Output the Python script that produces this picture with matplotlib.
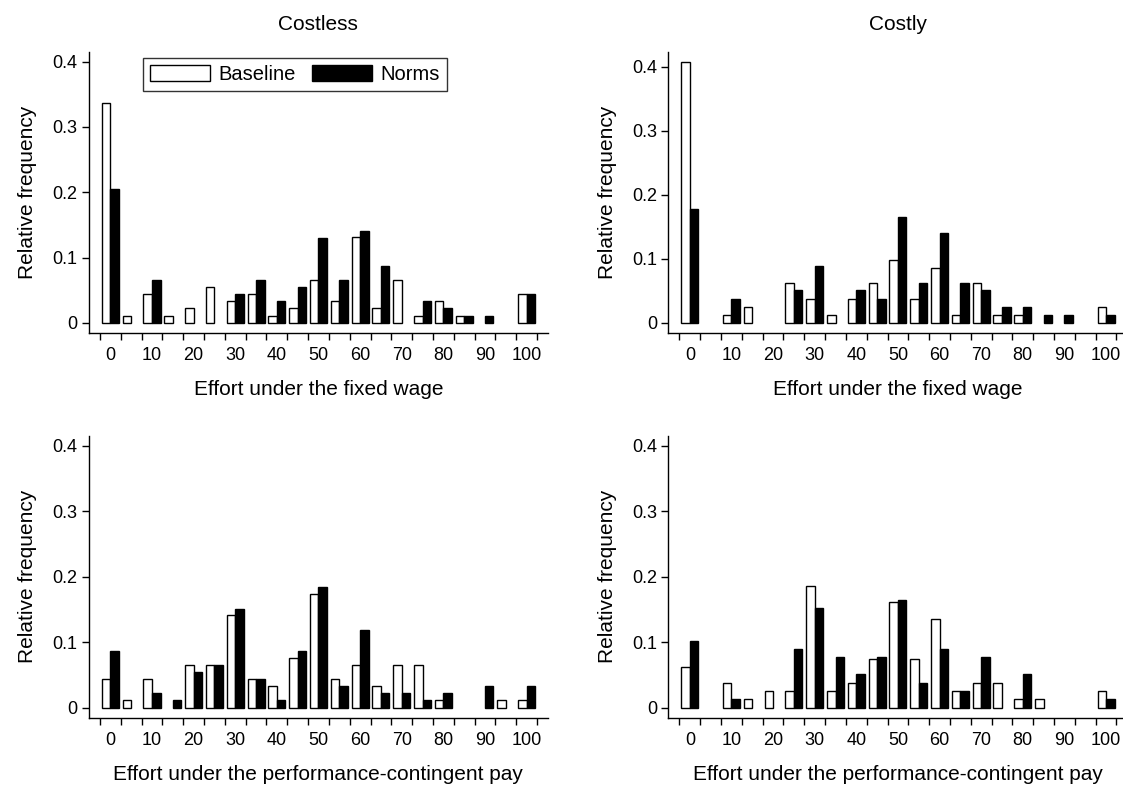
import matplotlib
matplotlib.use('Agg')
import matplotlib.pyplot as plt
import numpy as np

plt.rcParams['font.family'] = ['Liberation Sans', 'DejaVu Sans']

# Effort levels (bins of width 5)
effort = np.arange(0, 101, 5)

# Relative frequencies
base_fixed_costless = [0.337, 0.011, 0.044, 0.011, 0.022, 0.055, 0.033, 0.044, 0.011, 0.022, 0.065,
                       0.033, 0.131, 0.022, 0.065, 0.011, 0.033, 0.011, 0, 0, 0.044]
norms_fixed_costless = [0.205, 0, 0.065, 0, 0, 0, 0.044, 0.065, 0.033, 0.055, 0.130,
                        0.065, 0.140, 0.087, 0, 0.033, 0.022, 0.011, 0.011, 0, 0.044]

base_fixed_costly = [0.408, 0, 0.0125, 0.025, 0, 0.062, 0.0375, 0.0125, 0.0375, 0.062, 0.099,
                     0.0375, 0.0865, 0.0125, 0.062, 0.0125, 0.0125, 0, 0, 0, 0.025]
norms_fixed_costly = [0.178, 0, 0.038, 0, 0, 0.051, 0.089, 0, 0.051, 0.038, 0.165,
                      0.063, 0.140, 0.063, 0.051, 0.025, 0.025, 0.0125, 0.0125, 0, 0.0125]

base_perf_costless = [0.044, 0.011, 0.044, 0, 0.065, 0.065, 0.142, 0.044, 0.033, 0.076, 0.174,
                      0.044, 0.065, 0.033, 0.065, 0.065, 0.011, 0, 0, 0.011, 0.011]
norms_perf_costless = [0.087, 0, 0.022, 0.011, 0.055, 0.065, 0.151, 0.043, 0.011, 0.087, 0.184,
                       0.033, 0.119, 0.022, 0.022, 0.011, 0.022, 0, 0.033, 0, 0.033]

base_perf_costly = [0.062, 0, 0.037, 0.0125, 0.025, 0.025, 0.186, 0.025, 0.037, 0.074, 0.161,
                    0.074, 0.136, 0.025, 0.037, 0.037, 0.0125, 0.0125, 0, 0, 0.025]
norms_perf_costly = [0.102, 0, 0.0125, 0, 0, 0.089, 0.152, 0.077, 0.051, 0.077, 0.165,
                     0.038, 0.089, 0.025, 0.077, 0, 0.051, 0, 0, 0, 0.0125]

yticks = [0, 0.1, 0.2, 0.3, 0.4]
ytick_labels = ['0', '0.1', '0.2', '0.3', '0.4']
xlabels_major = np.arange(0, 101, 10)

TICK_FS = 13
LABEL_FS = 15

fig = plt.figure(figsize=(11.23, 7.87), dpi=100)

# axes positions [left, bottom, width, height] in figure fraction
positions = {
    'tl': [0.079, 0.577, 0.409, 0.357],
    'tr': [0.595, 0.577, 0.409, 0.357],
    'bl': [0.079, 0.088, 0.409, 0.358],
    'br': [0.595, 0.088, 0.409, 0.358],
}


def draw_panel(ax, base, norms, xlabel, ytop, title=None):
    base = np.array(base)
    norms = np.array(norms)
    w = 2.05
    mb = base > 0
    mn = norms > 0
    ax.bar(effort[mb], base[mb], width=-w, align='edge', color='white',
           edgecolor='black', linewidth=1.0, label='Baseline')
    ax.bar(effort[mn], norms[mn], width=w, align='edge', color='black',
           edgecolor='black', linewidth=1.0, label='Norms')

    ax.set_xlim(-5.2, 105.15)
    ax.set_ylim(-0.0155, ytop)

    for s in ['top', 'right']:
        ax.spines[s].set_visible(False)
    for s in ['left', 'bottom']:
        ax.spines[s].set_linewidth(1.0)

    ax.set_yticks(yticks)
    ax.set_yticklabels(ytick_labels, fontsize=TICK_FS)
    ax.tick_params(axis='y', direction='out', length=5, width=1.0, pad=3)

    # tick marks at bin boundaries, labels at bin centres
    ax.set_xticks(np.arange(-2.5, 103, 5))
    ax.set_xticklabels([])
    ax.tick_params(axis='x', which='major', direction='out', length=5, width=1.0)
    ax.set_xticks(xlabels_major, minor=True)
    ax.set_xticklabels([str(v) for v in xlabels_major], minor=True, fontsize=TICK_FS)
    ax.tick_params(axis='x', which='minor', length=0, pad=10)

    ax.set_xlabel(xlabel, fontsize=LABEL_FS, labelpad=12)
    ax.set_ylabel('Relative frequency', fontsize=LABEL_FS, labelpad=11)
    if title:
        ax.set_title(title, fontsize=LABEL_FS, pad=16)


ax1 = fig.add_axes(positions['tl'])
draw_panel(ax1, base_fixed_costless, norms_fixed_costless,
           'Effort under the fixed wage', 0.415, 'Costless')
leg = ax1.legend(loc='upper center', bbox_to_anchor=(0.449, 0.979), ncol=2,
                 fontsize=14.5, frameon=True, fancybox=False, edgecolor='black',
                 handlelength=3.0, handleheight=0.8, columnspacing=0.8,
                 handletextpad=0.4, borderpad=0.35, borderaxespad=0)
leg.get_frame().set_linewidth(1.0)

ax2 = fig.add_axes(positions['tr'])
draw_panel(ax2, base_fixed_costly, norms_fixed_costly,
           'Effort under the fixed wage', 0.423, 'Costly')

ax3 = fig.add_axes(positions['bl'])
draw_panel(ax3, base_perf_costless, norms_perf_costless,
           'Effort under the performance-contingent pay', 0.415)

ax4 = fig.add_axes(positions['br'])
draw_panel(ax4, base_perf_costly, norms_perf_costly,
           'Effort under the performance-contingent pay', 0.415)

plt.savefig('out.png', dpi=100)
plt.close()
